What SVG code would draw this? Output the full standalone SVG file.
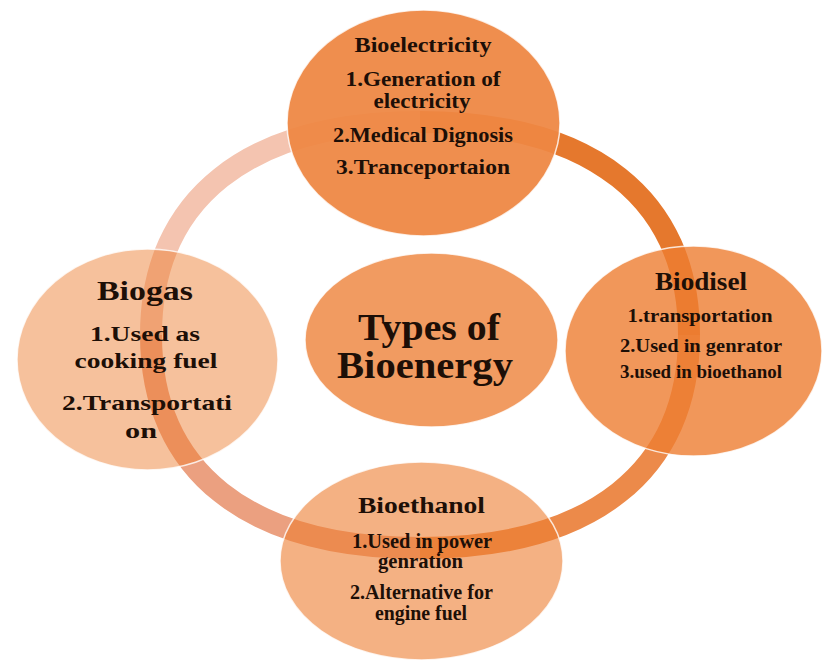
<svg xmlns="http://www.w3.org/2000/svg" width="826" height="662" viewBox="0 0 826 662">
  <style>
    .ring { fill: none; stroke-width: 22; stroke-linecap: butt; }
    .node { fill: #ED7D31; stroke: #ffffff; stroke-width: 1.5; stroke-opacity: 0.8; }
    .t { font-family: "Liberation Serif", "Times New Roman", serif; font-weight: bold; fill: #1d0f07; text-anchor: middle; }
  </style>
  <rect width="826" height="662" fill="#ffffff"/>
  <g id="connectors">
    <path class="ring" stroke="#F4C4B0" d="M151,335 C151,199 248,122 420,122"/>
    <path class="ring" stroke="#E5782D" d="M420,122 C592,122 689,199 689,335"/>
    <path class="ring" stroke="#EC8A4A" d="M689,335 C689,471 592,548 420,548"/>
    <path class="ring" stroke="#EBA080" d="M420,548 C248,548 151,471 151,335"/>
  </g>
  <g id="bioelectricity">
    <ellipse class="node" cx="423.5" cy="123" rx="136.5" ry="113" style="fill:#EE8743" fill-opacity="0.94"/>
    <text class="t" x="423" y="52" font-size="22" textLength="137" lengthAdjust="spacingAndGlyphs">Bioelectricity</text>
    <text class="t" x="423" y="86" font-size="20" textLength="155" lengthAdjust="spacingAndGlyphs">1.Generation of</text>
    <text class="t" x="422" y="108" font-size="20" textLength="97" lengthAdjust="spacingAndGlyphs">electricity</text>
    <text class="t" x="423" y="142" font-size="20" textLength="180" lengthAdjust="spacingAndGlyphs">2.Medical Dignosis</text>
    <text class="t" x="423" y="174" font-size="20" textLength="174" lengthAdjust="spacingAndGlyphs">3.Tranceportaion</text>
  </g>
  <g id="biogas">
    <ellipse class="node" cx="147.5" cy="359.5" rx="130.5" ry="110.5" fill-opacity="0.48"/>
    <text class="t" x="145" y="300" font-size="27" textLength="96" lengthAdjust="spacingAndGlyphs">Biogas</text>
    <text class="t" x="145" y="341" font-size="22" textLength="110" lengthAdjust="spacingAndGlyphs">1.Used as</text>
    <text class="t" x="146" y="368" font-size="22" textLength="143" lengthAdjust="spacingAndGlyphs">cooking fuel</text>
    <text class="t" x="147" y="410" font-size="22" textLength="170" lengthAdjust="spacingAndGlyphs">2.Transportati</text>
    <text class="t" x="141" y="438" font-size="22" textLength="32" lengthAdjust="spacingAndGlyphs">on</text>
  </g>
  <g id="biodisel">
    <ellipse class="node" cx="693.5" cy="351" rx="128.5" ry="105" fill-opacity="0.8"/>
    <text class="t" x="701" y="290" font-size="26" textLength="92" lengthAdjust="spacingAndGlyphs">Biodisel</text>
    <text class="t" x="700" y="322" font-size="19" textLength="145" lengthAdjust="spacingAndGlyphs">1.transportation</text>
    <text class="t" x="701" y="352" font-size="19" textLength="162" lengthAdjust="spacingAndGlyphs">2.Used in genrator</text>
    <text class="t" x="701" y="378" font-size="18" textLength="162" lengthAdjust="spacingAndGlyphs">3.used in bioethanol</text>
  </g>
  <g id="bioethanol">
    <ellipse class="node" cx="421.5" cy="561" rx="141.5" ry="99" fill-opacity="0.6"/>
    <text class="t" x="421.5" y="513" font-size="24" textLength="127" lengthAdjust="spacingAndGlyphs">Bioethanol</text>
    <text class="t" x="422" y="548" font-size="20" textLength="140" lengthAdjust="spacingAndGlyphs">1.Used in power</text>
    <text class="t" x="420.5" y="568" font-size="20" textLength="85" lengthAdjust="spacingAndGlyphs">genration</text>
    <text class="t" x="421.5" y="599" font-size="20" textLength="143" lengthAdjust="spacingAndGlyphs">2.Alternative for</text>
    <text class="t" x="421" y="620" font-size="20" textLength="92" lengthAdjust="spacingAndGlyphs">engine fuel</text>
  </g>
  <g id="center">
    <ellipse class="node" cx="431.5" cy="340" rx="126.5" ry="87" fill-opacity="0.77"/>
    <text class="t" x="429" y="340" font-size="38" textLength="142" lengthAdjust="spacingAndGlyphs">Types of</text>
    <text class="t" x="425" y="378" font-size="38" textLength="176" lengthAdjust="spacingAndGlyphs">Bioenergy</text>
  </g>
</svg>
